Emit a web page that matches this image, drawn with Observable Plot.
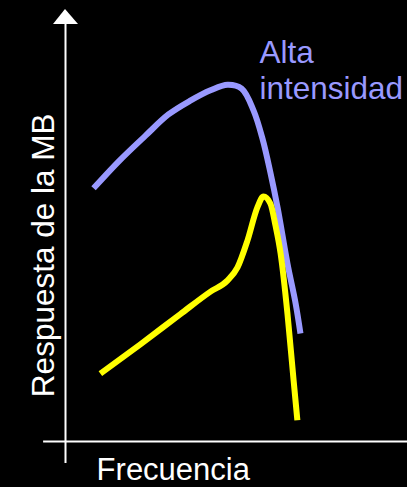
<!DOCTYPE html>
<html>
<head>
<meta charset="utf-8">
<script src="https://cdn.jsdelivr.net/npm/d3@7"></script>
<script src="https://cdn.jsdelivr.net/npm/@observablehq/plot@0.6"></script>
<style>
  html, body { margin: 0; padding: 0; background: #000; }
  svg { display: block; }
</style>
</head>
<body>
<div id="chart"></div>
<script>
// Curve "Alta intensidad" (lavender)
const altaFreq = [0.82, 1.55, 2.34, 3.01, 3.65, 4.24, 4.74, 5.15, 5.50, 5.76, 5.99, 6.20, 6.49, 6.73, 6.87];
const altaResp = [5.86, 6.48, 7.08, 7.57, 7.89, 8.13, 8.26, 8.17, 7.66, 7.01, 6.23, 5.42, 4.12, 3.19, 2.50];
// Curve low intensity (yellow)
const bajaFreq = [1.02, 2.19, 3.36, 4.24, 4.74, 5.03, 5.32, 5.61, 5.79, 5.99, 6.14, 6.29, 6.49, 6.67, 6.78];
const bajaResp = [1.57, 2.25, 2.95, 3.47, 3.73, 4.03, 4.65, 5.42, 5.67, 5.51, 5.00, 4.35, 2.96, 1.41, 0.49];

const xLabel = "Frecuencia";
const yLabel = "Respuesta de la MB";
const seriesLabel = ["Alta", "intensidad"];

const alta = altaFreq.map((x, i) => ({x, y: altaResp[i]}));
const baja = bajaFreq.map((x, i) => ({x, y: bajaResp[i]}));
const arrow = [{x: -0.35, y1: 9.65, y2: 9.65}, {x: 0, y1: 9.65, y2: 10}, {x: 0.38, y1: 9.65, y2: 9.65}];

const chart = Plot.plot({
  width: 407,
  height: 487,
  marginLeft: 65,
  marginRight: 0,
  marginTop: 9,
  marginBottom: 46,
  style: {background: "#000", fontFamily: "'Liberation Sans', Arial, sans-serif"},
  x: {domain: [0, 10], axis: null},
  y: {domain: [0, 10], axis: null},
  marks: [
    Plot.ruleY([0], {x1: -0.64, x2: 10, stroke: "#fff", strokeWidth: 2}),
    Plot.ruleX([0], {y1: -0.51, y2: 9.65, stroke: "#fff", strokeWidth: 2}),
    Plot.areaY(arrow, {x: "x", y1: "y1", y2: "y2", fill: "#fff", curve: "linear"}),
    Plot.line(alta, {x: "x", y: "y", stroke: "#9999ff", strokeWidth: 6, curve: "catmull-rom", strokeLinecap: "butt"}),
    Plot.line(baja, {x: "x", y: "y", stroke: "#ffff00", strokeWidth: 6, curve: "monotone-x", strokeLinecap: "butt"}),
    Plot.text([xLabel], {x: 0.91, y: -0.90, text: d => d, textAnchor: "start", lineAnchor: "bottom", fill: "#fff", fontSize: 31}),
    Plot.text([yLabel], {x: -0.35, y: 4.31, text: d => d, rotate: -90, textAnchor: "middle", lineAnchor: "bottom", fill: "#fff", fontSize: 31.5}),
    Plot.text(seriesLabel, {x: 5.67, y: (d, i) => [8.77, 7.92][i], text: d => d, textAnchor: "start", lineAnchor: "bottom", fill: "#9999ff", fontSize: 31.5})
  ]
});
document.getElementById("chart").append(chart);
</script>
</body>
</html>
